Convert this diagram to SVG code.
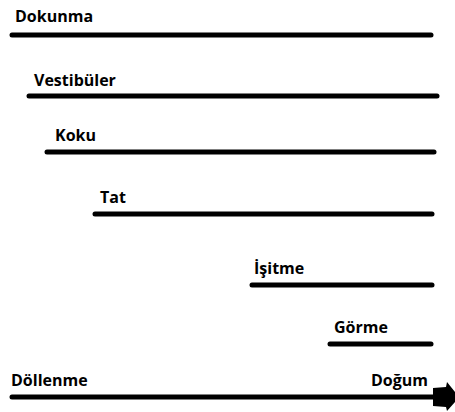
<svg xmlns="http://www.w3.org/2000/svg" width="455" height="412" viewBox="0 0 455 412">
<style>
.l{stroke:#000;stroke-width:5;stroke-linecap:round;fill:none}
.t{font-family:"Open Sans","DejaVu Sans",sans-serif;font-weight:700;font-size:16px;fill:#000}
</style>
<rect width="455" height="412" fill="#fff"/>
<g id="dokunma"><text class="t" x="15" y="22">Dokunma</text></g>
<g id="vestibuler"><text class="t" x="34" y="86">Vestibüler</text></g>
<g id="koku"><text class="t" x="55" y="141">Koku</text></g>
<g id="tat"><text class="t" x="100" y="203">Tat</text></g>
<g id="isitme"><text class="t" x="254" y="274">İşitme</text></g>
<g id="gorme"><text class="t" x="334" y="333">Görme</text></g>
<g id="dollenme"><text class="t" x="11" y="386">Döllenme</text></g>
<g id="dogum"><text class="t" x="371" y="386">Doğum</text></g>
<g id="connectors">
<line class="l" x1="12" y1="35" x2="431" y2="35"/>
<line class="l" x1="29" y1="96" x2="437" y2="96"/>
<line class="l" x1="47" y1="152" x2="434" y2="152"/>
<line class="l" x1="95" y1="214" x2="432" y2="214"/>
<line class="l" x1="252" y1="285" x2="432" y2="285"/>
<line class="l" x1="330" y1="344" x2="431" y2="344"/>
<line class="l" x1="12" y1="397" x2="436" y2="397"/>
<polygon points="433,388 446,387 447,382 455,392 455,402 447,411 446,407 433,406" fill="#000"/>
</g>
</svg>
